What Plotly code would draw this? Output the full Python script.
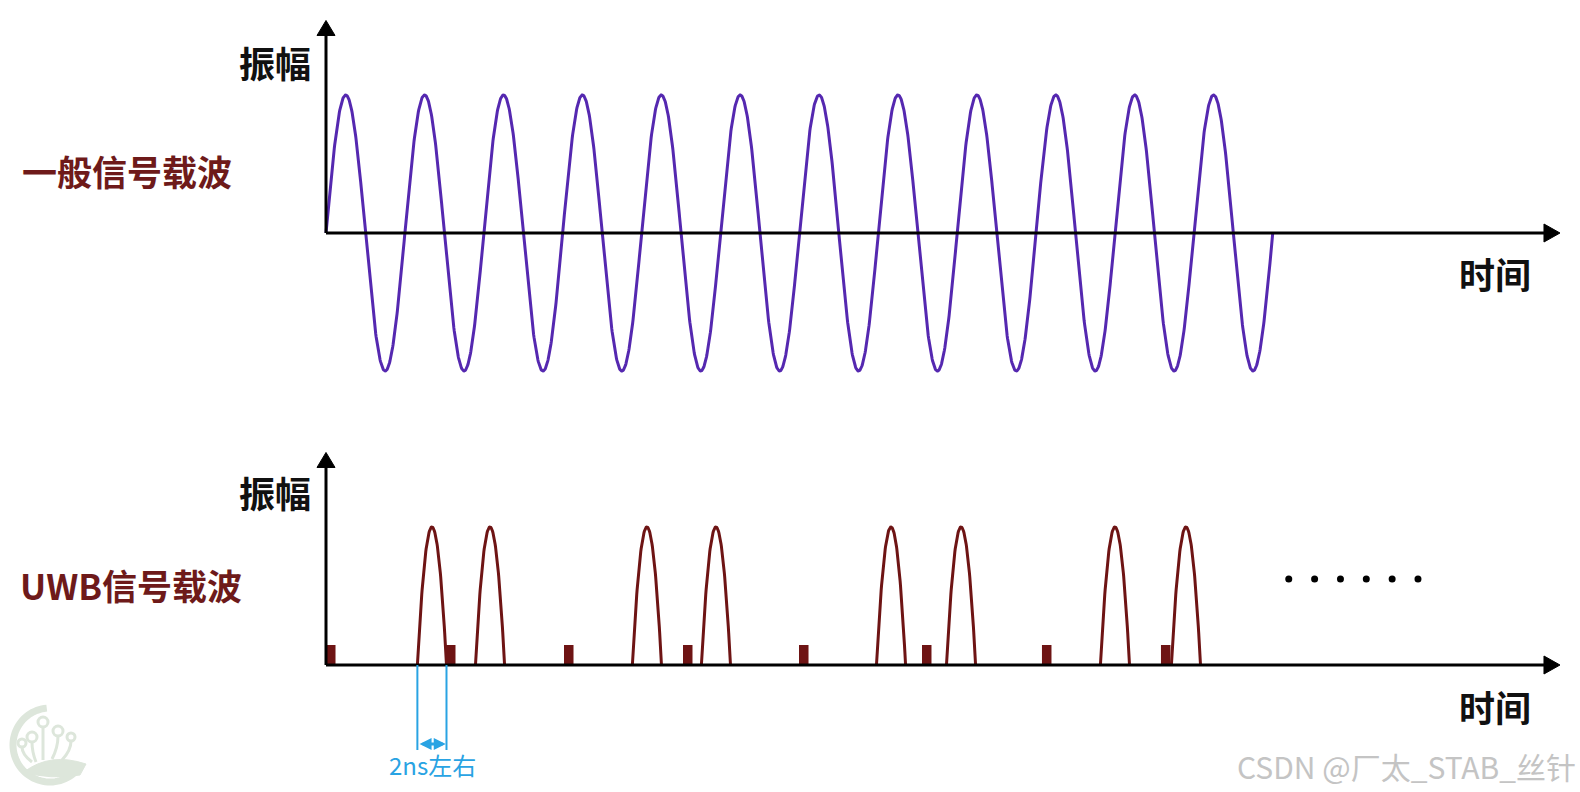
import numpy as np
import plotly.graph_objects as go

# ---------------- data (time in ns, amplitude normalised) ----------------
carrier_cycles = 12
carrier_period = 5.556          # ns per cycle of the ordinary carrier
carrier_amp = 1.0

pulse_centers = [7.46, 11.55, 22.6, 27.46, 39.79, 44.72, 55.56, 60.56]
pulse_width = 2.05              # ns ("2ns左右")
pulse_amp = 1.0

marker_starts = [0.0, 8.45, 16.76, 25.14, 33.31, 41.97, 50.42, 58.8]
marker_width = 0.67
marker_height = 0.145

dots_t = [67.8, 69.62, 71.44, 73.26, 75.08, 76.9]
dots_y = [0.623] * 6

axis_t_end = 86.9
axis_y_top = 1.54

# ---------------- layout helpers (pixel mapping) ----------------
W, H = 1580, 792
K = 14.2       # px per ns
Y0 = 326       # px of t=0
S = 138.0      # px per amplitude unit
TOP0, BOT0 = 233, 665   # px of the two time axes

def P(x, y):
    return f"{x / W:.5f},{1 - y / H:.5f}"

purple = "#5528b0"
dred = "#6e1414"
blue = "#29a3e3"

fig = go.Figure()

# ordinary carrier (sine)
t = np.linspace(0, carrier_cycles * carrier_period, 2400)
fig.add_trace(go.Scatter(x=t, y=carrier_amp * np.sin(2 * np.pi * t / carrier_period),
                         mode="lines", line=dict(color=purple, width=3),
                         xaxis="x", yaxis="y", hoverinfo="skip"))

# UWB pulses (rounded arches)
for c in pulse_centers:
    u = np.linspace(-1, 1, 81)
    tp = c + u * pulse_width / 2
    yp = pulse_amp * (1 - u ** 2)
    fig.add_trace(go.Scatter(x=tp, y=yp, mode="lines", line=dict(color=dred, width=3),
                             xaxis="x", yaxis="y2", hoverinfo="skip"))

# small marker blocks
shapes = []
for s in marker_starts:
    shapes.append(dict(type="rect", xref="x", yref="y2", x0=s, x1=s + marker_width,
                       y0=0, y1=marker_height, fillcolor=dred, line=dict(width=0)))

# dots
fig.add_trace(go.Scatter(x=dots_t, y=dots_y, mode="markers",
                         marker=dict(color="black", size=7), xaxis="x", yaxis="y2",
                         hoverinfo="skip"))

# axes lines with arrow heads (drawn for both panels)
for yref in ["y", "y2"]:
    shapes.append(dict(type="line", xref="x", yref=yref, x0=0, x1=axis_t_end - 0.8,
                       y0=0, y1=0, line=dict(color="black", width=3)))
    shapes.append(dict(type="line", xref="x", yref=yref, x0=0, x1=0,
                       y0=0, y1=axis_y_top - 0.06, line=dict(color="black", width=3)))
    hw = 9 / K
    hh = 15 / S
    shapes.append(dict(type="path", xref="x", yref=yref,
                       path=f"M {-hw},{axis_y_top - hh} L 0,{axis_y_top} L {hw},{axis_y_top - hh} Z",
                       fillcolor="black", line=dict(color="black", width=1)))
    aw = 16 / K
    ah = 9 / S
    shapes.append(dict(type="path", xref="x", yref=yref,
                       path=f"M {axis_t_end - aw},{ah} L {axis_t_end},0 L {axis_t_end - aw},{-ah} Z",
                       fillcolor="black", line=dict(color="black", width=1)))

# 2ns annotation
c0 = pulse_centers[0]
for xe in [c0 - pulse_width / 2, c0 + pulse_width / 2]:
    shapes.append(dict(type="line", xref="x", yref="y2", x0=xe, x1=xe, y0=0, y1=-0.616,
                       line=dict(color=blue, width=2)))

annotations = []
annotations.append(dict(x=c0 + pulse_width / 2 - 0.05, y=-0.572, ax=c0 - pulse_width / 2 + 0.05, ay=-0.572,
                        xref="x", yref="y2", axref="x", ayref="y2", text="", showarrow=True,
                        arrowhead=2, arrowside="end+start", arrowsize=0.8, arrowwidth=3,
                        arrowcolor=blue))

def txt(text, x, y, size, color, bold=False, family="Noto Sans CJK SC"):
    annotations.append(dict(text=f"<b>{text}</b>" if bold else text, x=x / W, y=1 - y / H,
                            xref="paper", yref="paper", showarrow=False,
                            xanchor="center", yanchor="middle",
                            font=dict(size=size, color=color, family=family)))

txt("2ns左右", 432, 764, 24, blue)
txt("振幅", 275, 62, 36, "#111111", bold=True)
txt("振幅", 275, 492, 36, "#111111", bold=True)
txt("一般信号载波", 127, 170, 35, "#6e1a1a", bold=True)
txt("UWB信号载波", 131, 584, 35, "#6e1a1a", bold=True)
txt("时间", 1495, 273, 36, "#111111", bold=True)
txt("时间", 1495, 706, 36, "#111111", bold=True)
txt("CSDN @厂太_STAB_丝针", 1406, 766, 30, "#c4c4c4")

# faint logo bottom-left (decorative)
lg = "#dde6db"
cx, cy, r = 50, 745, 37
ang = np.radians(np.linspace(95, 325, 60))
arc = "M " + " L ".join(P(cx + r * np.cos(a), cy - r * np.sin(a)) for a in ang)
shapes.append(dict(type="path", xref="paper", yref="paper", path=arc,
                   line=dict(color=lg, width=7)))
hill = f"M {P(24,772)} Q {P(50,752)} {P(86,764)} L {P(80,775)} Q {P(50,780)} {P(24,772)} Z"
shapes.append(dict(type="path", xref="paper", yref="paper", path=hill,
                   fillcolor=lg, line=dict(color=lg, width=1)))
buds = [(22, 743, 4), (32, 737, 5), (43, 722, 5), (58, 731, 5), (71, 737, 4)]
stems = [(22, 747, 32, 762), (32, 742, 36, 762), (43, 727, 43, 760), (58, 736, 52, 759), (71, 741, 62, 760)]
for (x1, y1, x2, y2) in stems:
    shapes.append(dict(type="path", xref="paper", yref="paper",
                       path=f"M {P(x1,y1)} Q {P(x1,(y1+y2)/2)} {P(x2,y2)}",
                       line=dict(color=lg, width=3)))
for (bx, by, br) in buds:
    shapes.append(dict(type="circle", xref="paper", yref="paper",
                       x0=(bx - br) / W, x1=(bx + br) / W, y0=1 - (by + br) / H, y1=1 - (by - br) / H,
                       line=dict(color=lg, width=3), fillcolor="white"))

fig.update_layout(
    width=W, height=H, margin=dict(l=0, r=0, t=0, b=0),
    paper_bgcolor="white", plot_bgcolor="white", showlegend=False,
    xaxis=dict(range=[-Y0 / K, (W - Y0) / K], visible=False, fixedrange=True),
    yaxis=dict(range=[(TOP0 - H) / S, TOP0 / S], visible=False, fixedrange=True),
    yaxis2=dict(range=[(BOT0 - H) / S, BOT0 / S], visible=False, overlaying="y", fixedrange=True),
    shapes=shapes, annotations=annotations,
)

fig.write_html("out.html", config={"displayModeBar": False},
               post_script="document.body.style.margin='0';document.body.style.overflow='hidden';")
